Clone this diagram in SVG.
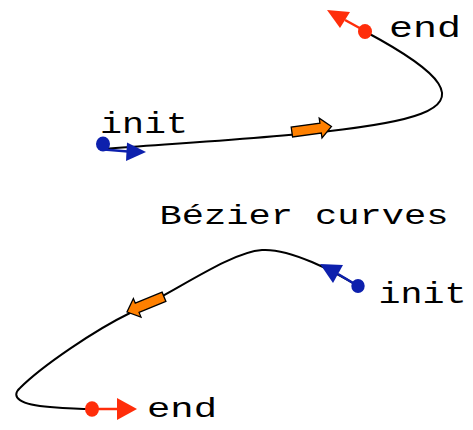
<svg xmlns="http://www.w3.org/2000/svg" xmlns:xlink="http://www.w3.org/1999/xlink" width="473" height="430" viewBox="0 0 473 430">
  <style>
    .lbl { font-family: "Liberation Mono", "DejaVu Sans Mono", monospace; fill: #000; }
    .curve { fill: none; stroke: #000; stroke-width: 2; }
    .blue { fill: #0d20ad; }
    .red { fill: #ff2d0a; }
    .bline { stroke: #0d20ad; stroke-width: 2.5; fill: none; }
    .rline { stroke: #ff2d0a; stroke-width: 2.5; fill: none; }
    .dir { fill: #ff8000; stroke: #000; stroke-width: 1.3; stroke-linejoin: miter; }
  </style>
  <defs>
    <polygon id="blockArrow" points="0,0 -11,-10 -11,-5 -40,-5 -40,5 -11,5 -11,10"/>
  </defs>
  <rect width="473" height="430" fill="#fff"/>

  <g id="connectors">
    <path class="curve" d="M104,149 C400,127 540,125 366,32"/>
    <path class="curve" d="M358,286 C335,272 290,248 262,250 C230,252 175,292 130,313 C95,330 42,366 20,388 C10,397 20,405 50,407 C70,408.5 80,409 92,409"/>
    <!-- tangent arrows -->
    <line class="bline" x1="104" y1="149.5" x2="128" y2="151.5"/>
    <polygon class="blue" points="127,142.5 146,152 126,161"/>
    <line class="rline" x1="365" y1="31" x2="345" y2="20"/>
    <polygon class="red" points="327,10 350,12 340,28"/>
    <line class="bline" x1="358" y1="286" x2="338" y2="274"/>
    <polygon class="blue" points="320,264 343,265 333,283"/>
    <line class="rline" x1="92" y1="409" x2="118" y2="409"/>
    <polygon class="red" points="117,398 137,409 117,420"/>
    <!-- direction arrows -->
    <use xlink:href="#blockArrow" class="dir" transform="translate(331.5,126.5) rotate(-8)"/>
    <use xlink:href="#blockArrow" class="dir" transform="translate(127,312) rotate(157.7)"/>
  </g>

  <g id="init-top">
    <ellipse class="blue" cx="103" cy="144" rx="7" ry="7.5"/>
    <text class="lbl" x="100" y="133" font-size="30" textLength="88" lengthAdjust="spacingAndGlyphs">init</text>
  </g>
  <g id="end-top">
    <ellipse class="red" cx="365" cy="31.5" rx="7" ry="7.5"/>
    <text class="lbl" x="389" y="37" font-size="29" textLength="72" lengthAdjust="spacingAndGlyphs">end</text>
  </g>
  <g id="init-bottom">
    <ellipse class="blue" cx="358" cy="286" rx="6.7" ry="7"/>
    <text class="lbl" x="378.5" y="303" font-size="30" textLength="88" lengthAdjust="spacingAndGlyphs">init</text>
  </g>
  <g id="end-bottom">
    <ellipse class="red" cx="92" cy="409" rx="7" ry="7.8"/>
    <text class="lbl" x="147" y="417" font-size="27" textLength="70" lengthAdjust="spacingAndGlyphs">end</text>
  </g>
  <g id="title">
    <text class="lbl" x="159.5" y="224" font-size="28" textLength="289" lengthAdjust="spacingAndGlyphs">Bézier curves</text>
  </g>
</svg>
